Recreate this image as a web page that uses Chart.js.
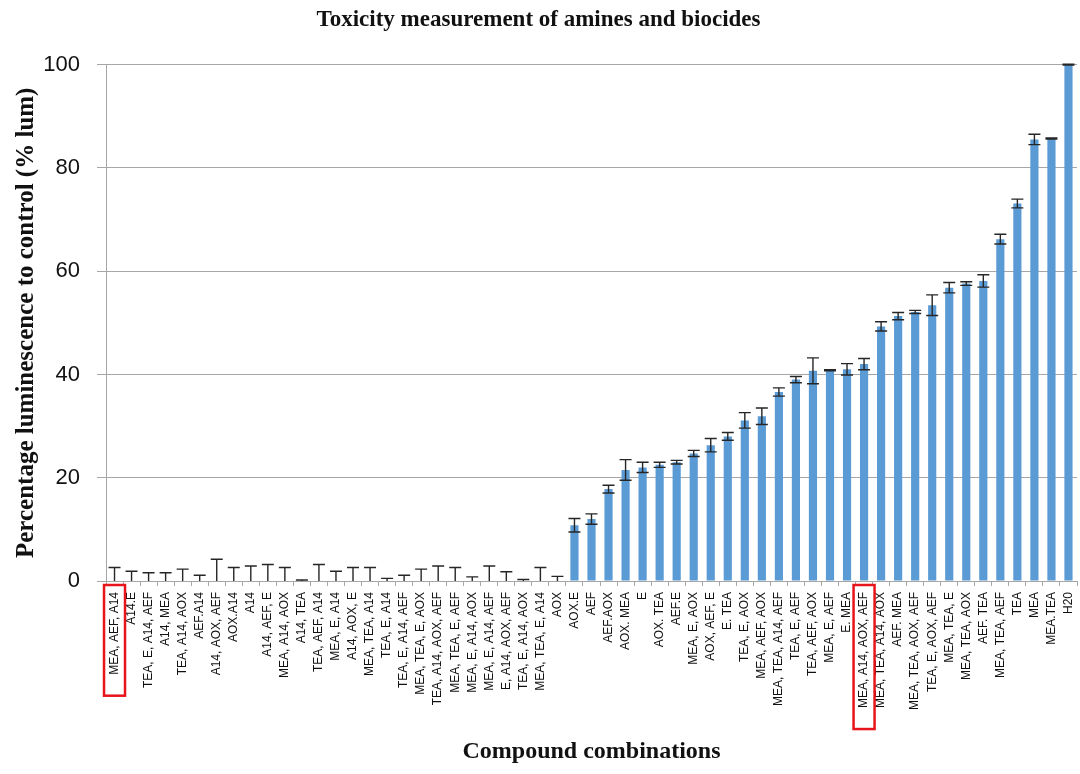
<!DOCTYPE html>
<html>
<head>
<meta charset="utf-8">
<script src="https://cdn.jsdelivr.net/npm/chart.js@4/dist/chart.umd.min.js"></script>
<style>
  html, body { margin: 0; padding: 0; background: #fff; }
  #wrap { width: 1080px; height: 774px; }
</style>
</head>
<body>
<div id="wrap"><canvas id="toxChart" width="1080" height="774"></canvas></div>
<script>
// compound combinations (x categories)
const compounds = [
    'MEA, AEF, A14', 'A14.E', 'TEA, E, A14, AEF', 'A14, MEA', 'TEA, A14, AOX', 'AEF.A14',
    'A14, AOX, AEF', 'AOX.A14', 'A14', 'A14, AEF, E', 'MEA, A14, AOX', 'A14, TEA',
    'TEA, AEF, A14', 'MEA, E, A14', 'A14, AOX, E', 'MEA, TEA, A14', 'TEA, E, A14',
    'TEA, E, A14, AEF', 'MEA, TEA, E, AOX', 'TEA, A14, AOX, AEF', 'MEA, TEA, E, AEF',
    'MEA, E, A14, AOX', 'MEA, E, A14, AEF', 'E, A14, AOX, AEF', 'TEA, E, A14, AOX',
    'MEA, TEA, E, A14', 'AOX', 'AOX.E', 'AEF', 'AEF.AOX', 'AOX. MEA', 'E', 'AOX. TEA',
    'AEF.E', 'MEA, E, AOX', 'AOX, AEF, E', 'E. TEA', 'TEA, E, AOX', 'MEA, AEF, AOX',
    'MEA, TEA, A14, AEF', 'TEA, E, AEF', 'TEA, AEF, AOX', 'MEA, E, AEF', 'E. MEA',
    'MEA, A14, AOX, AEF', 'MEA, TEA, A14, AOX', 'AEF. MEA', 'MEA, TEA, AOX, AEF',
    'TEA, E, AOX, AEF', 'MEA, TEA, E', 'MEA, TEA, AOX', 'AEF. TEA', 'MEA, TEA, AEF',
    'TEA', 'MEA', 'MEA.TEA', 'H20'
];

// % luminescence relative to control
const lumValues = [
    0, 0, 0, 0, 0, 0, 0, 0, 0, 0, 0, 0, 0, 0, 0, 0, 0, 0, 0, 0, 0, 0, 0, 0, 0, 0, 0,
    10.8, 12.0, 17.8, 21.5, 22.0, 22.5, 23.0, 24.7, 26.3, 28.0, 31.1, 31.9, 36.6, 39.0,
    40.7, 40.8, 41.0, 42.0, 49.3, 51.3, 52.1, 53.4, 56.8, 57.6, 58.1, 66.2, 73.1, 85.5,
    85.7, 100
];

// +/- error
const lumErrors = [
    2.6, 1.9, 1.6, 1.6, 2.3, 1.1, 4.2, 2.6, 2.9, 3.2, 2.6, 0.2, 3.2, 1.9, 2.6, 2.6, 0.5,
    1.1, 2.3, 2.9, 2.6, 0.8, 2.9, 1.8, 0.3, 2.6, 0.9,
    1.3, 1.0, 0.75, 2.0, 1.0, 0.5, 0.35, 0.6, 1.3, 0.75, 1.5, 1.6, 0.8, 0.6, 2.5, 0.1,
    1.1, 1.1, 0.9, 0.7, 0.3, 2.0, 1.0, 0.35, 1.2, 0.95, 0.85, 1.0, 0.1, 0.1
];

const yTicks = [0, 20, 40, 60, 80, 100];

// labels boxed in red in the original figure
const highlighted = [0, 44];

const SANS = '"Liberation Sans", Arial, sans-serif';
const SERIF = '"Liberation Serif", "Times New Roman", serif';

// error bars, clipped at the axis like Excel does
const errorBarPlugin = {
    id: 'errorBars',
    afterDatasetsDraw(chart) {
        const ctx = chart.ctx;
        const x = chart.scales.x, y = chart.scales.y;
        const area = chart.chartArea;
        ctx.save();
        ctx.strokeStyle = '#262626';
        ctx.lineWidth = 1.4;
        lumValues.forEach((v, i) => {
            const e = lumErrors[i];
            const cx = x.getPixelForValue(i);
            const top = y.getPixelForValue(v + e);
            const lo = v - e;
            const bot = y.getPixelForValue(Math.max(lo, 0));
            ctx.beginPath();
            ctx.moveTo(cx, Math.max(top, area.top));
            ctx.lineTo(cx, bot);
            ctx.moveTo(cx - 6, top);
            ctx.lineTo(cx + 6, top);
            if (lo >= 0) {
                ctx.moveTo(cx - 6, bot);
                ctx.lineTo(cx + 6, bot);
            }
            ctx.stroke();
        });
        ctx.restore();
    }
};

// red frames around the highlighted category labels
const labelBoxPlugin = {
    id: 'labelBoxes',
    afterDraw(chart) {
        const ctx = chart.ctx;
        const x = chart.scales.x;
        ctx.save();
        ctx.font = '12px ' + SANS;
        ctx.strokeStyle = '#e8141b';
        ctx.lineWidth = 2.5;
        highlighted.forEach(i => {
            const cx = x.getPixelForValue(i);
            const w = ctx.measureText(compounds[i]).width;
            ctx.strokeRect(cx - 10.5, x.top + 4, 21, w + 28);
        });
        ctx.restore();
    }
};

window.onload = function() {
    const ctx = document.getElementById('toxChart').getContext('2d');
    new Chart(ctx, {
        type: 'bar',
        data: {
            labels: compounds,
            datasets: [{
                label: '% lum',
                data: lumValues,
                backgroundColor: '#5b9bd5',
                borderWidth: 0,
                barPercentage: 0.48,
                categoryPercentage: 1.0
            }]
        },
        options: {
            responsive: false,
            animation: false,
            layout: { padding: { left: 0, right: 3, top: 0, bottom: 0 } },
            plugins: {
                legend: { display: false },
                tooltip: { enabled: false },
                title: {
                    display: true,
                    text: 'Toxicity measurement of amines and biocides',
                    color: '#111',
                    font: { family: SERIF, size: 23, weight: 'bold' },
                    padding: { top: 6, bottom: 31 }
                }
            },
            scales: {
                x: {
                    offset: true,
                    grid: {
                        offset: true,
                        drawOnChartArea: false,
                        drawTicks: true,
                        tickLength: 5,
                        color: '#a6a6a6'
                    },
                    border: { color: '#a6a6a6', width: 1 },
                    ticks: {
                        autoSkip: false,
                        minRotation: 90,
                        maxRotation: 90,
                        padding: 6,
                        color: '#111',
                        font: { family: SANS, size: 12 }
                    },
                    title: {
                        display: true,
                        text: 'Compound combinations',
                        color: '#111',
                        font: { family: SERIF, size: 24, weight: 'bold' },
                        padding: { top: 4, bottom: 8 }
                    },
                    afterFit(scale) {
                        scale.height = 193;
                        scale.paddingLeft = 0;
                        scale.paddingRight = 0;
                    }
                },
                y: {
                    min: 0,
                    max: 100,
                    afterBuildTicks(scale) {
                        scale.ticks = yTicks.map(v => ({ value: v }));
                    },
                    grid: { color: '#a6a6a6', drawTicks: true, tickLength: 9 },
                    border: { color: '#a6a6a6', width: 1 },
                    ticks: {
                        padding: 17,
                        color: '#111',
                        font: { family: SANS, size: 22 }
                    },
                    title: {
                        display: true,
                        text: 'Percentage luminescence to control (% lum)',
                        color: '#111',
                        font: { family: SERIF, size: 25, weight: 'bold' },
                        padding: { top: 12, bottom: 2 }
                    },
                    afterFit(scale) { scale.width = 106; }
                }
            }
        },
        plugins: [errorBarPlugin, labelBoxPlugin]
    });
};
</script>
</body>
</html>
